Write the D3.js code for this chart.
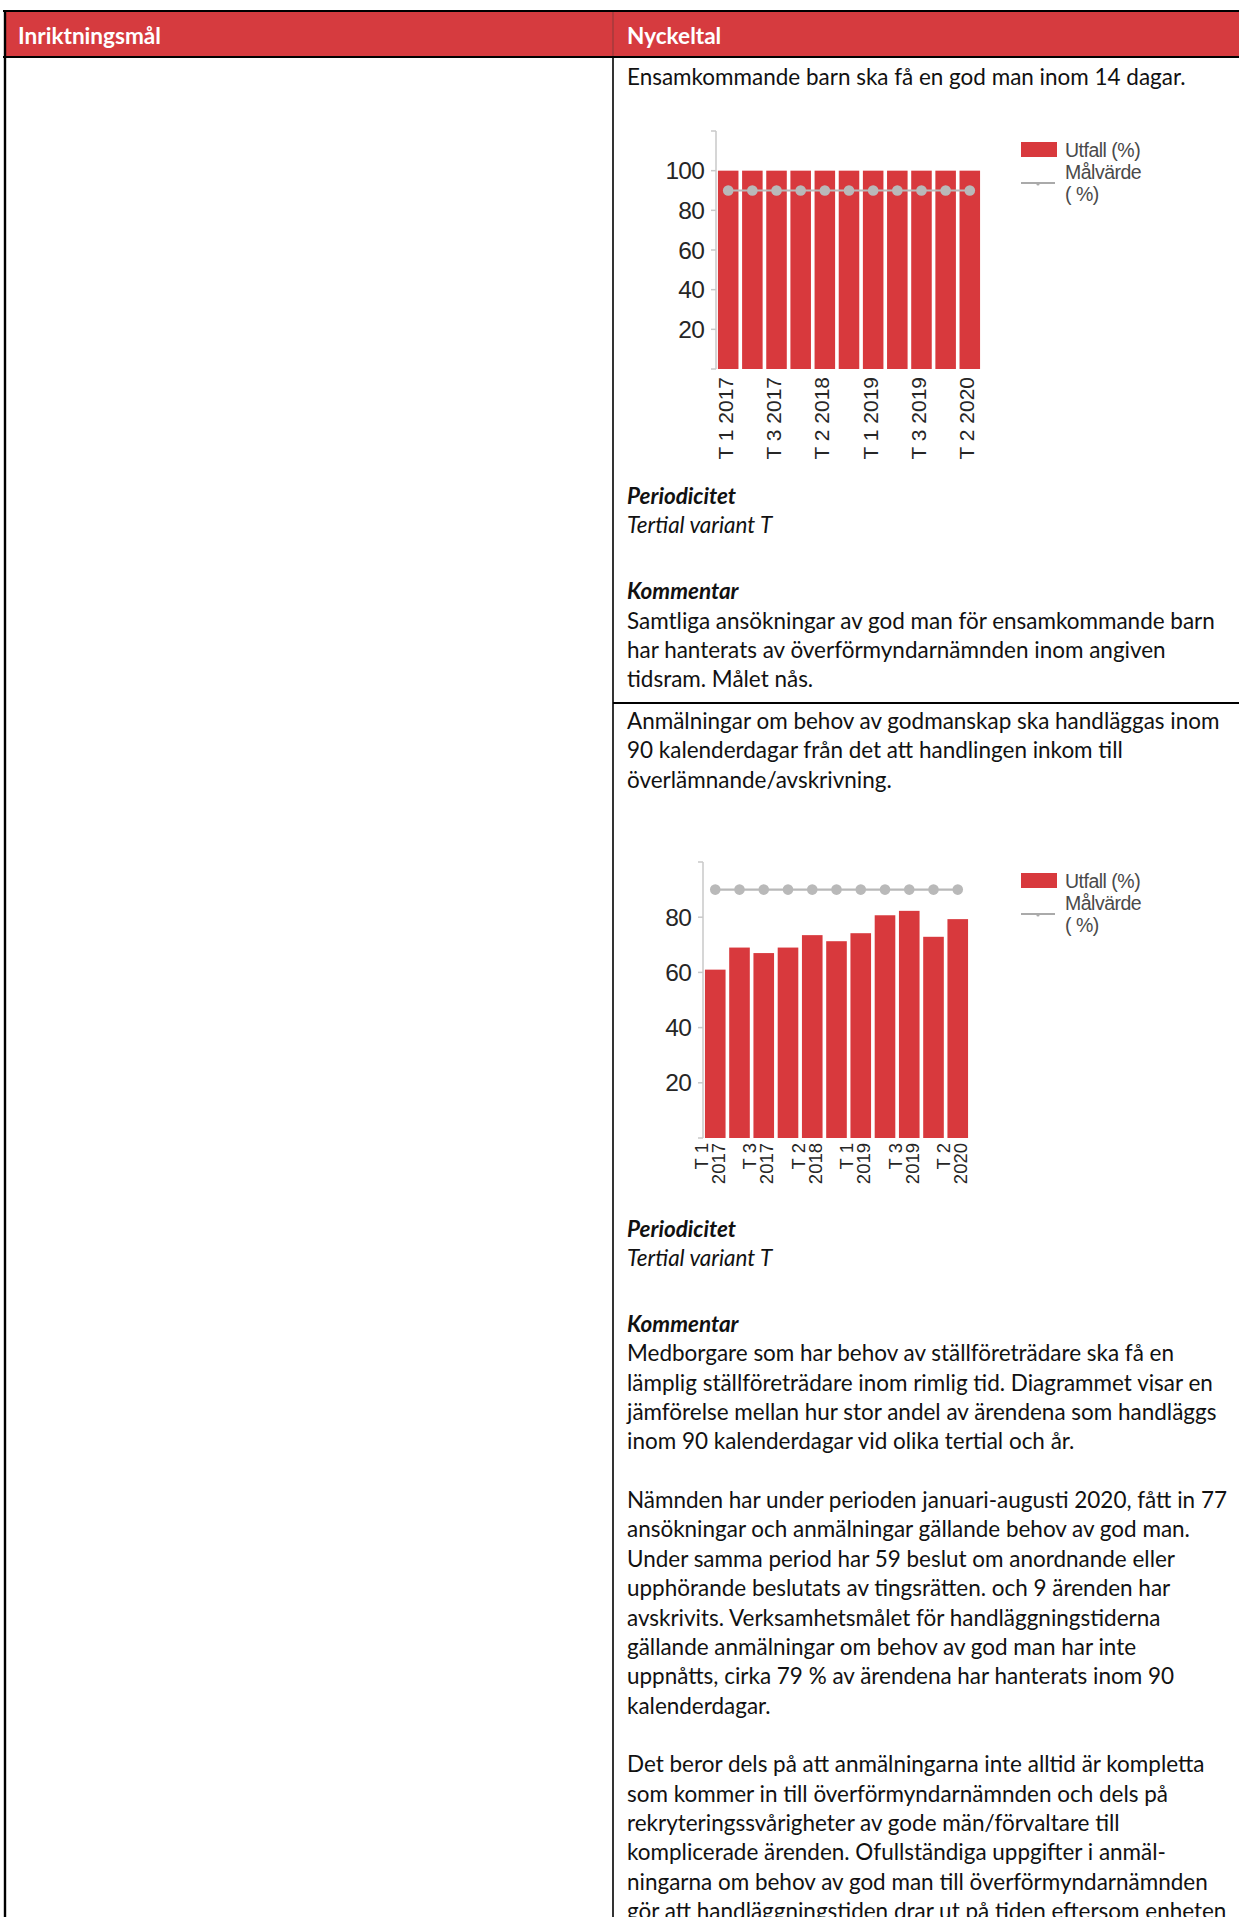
<!DOCTYPE html>
<html><head><meta charset="utf-8">
<script src="https://cdn.jsdelivr.net/npm/d3@7"></script>
<style>html,body{margin:0;padding:0;background:#fff;} svg{display:block}</style>
</head><body>
<svg id="page" width="1239" height="1917"></svg>
<script>
// ---------- DATA ----------
const categories = ["T 1 2017","T 2 2017","T 3 2017","T 1 2018","T 2 2018","T 3 2018","T 1 2019","T 2 2019","T 3 2019","T 1 2020","T 2 2020"];
const utfall1   = [100,100,100,100,100,100,100,100,100,100,100];
const malvarde1 = [90,90,90,90,90,90,90,90,90,90,90];
const utfall2   = [61,69,67,69,73.5,71.3,74.2,80.7,82.3,72.9,79.3];
const malvarde2 = [90,90,90,90,90,90,90,90,90,90,90];
const yTicks1 = [20,40,60,80,100];
const yTicks2 = [20,40,60,80];
const legendLabels = ["Utfall (%)","Målvärde","( %)"];
const headers = ["Inriktningsmål","Nyckeltal"];

const block1 = [
  {t:"Ensamkommande barn ska få en god man inom 14 dagar.", y:76},
];
const block1b = [
  {t:"Periodicitet", y:495.4, s:"bi"},
  {t:"Tertial variant T", y:524.7, s:"i"},
  {t:"Kommentar", y:590.8, s:"bi"},
  {t:"Samtliga ansökningar av god man för ensamkommande barn", y:620.1},
  {t:"har hanterats av överförmyndarnämnden inom angiven", y:649.5},
  {t:"tidsram. Målet nås.", y:678.8},
];
const block2 = [
  {t:"Anmälningar om behov av godmanskap ska handläggas inom", y:720.4},
  {t:"90 kalenderdagar från det att handlingen inkom till", y:749.8},
  {t:"överlämnande/avskrivning.", y:779.1},
  {t:"Periodicitet", y:1228, s:"bi"},
  {t:"Tertial variant T", y:1257.3, s:"i"},
  {t:"Kommentar", y:1323.4, s:"bi"},
  {t:"Medborgare som har behov av ställföreträdare ska få en", y:1352.7},
  {t:"lämplig ställföreträdare inom rimlig tid. Diagrammet visar en", y:1382.1},
  {t:"jämförelse mellan hur stor andel av ärendena som handläggs", y:1411.5},
  {t:"inom 90 kalenderdagar vid olika tertial och år.", y:1440.8},
  {t:"Nämnden har under perioden januari-augusti 2020, fått in 77", y:1499.5},
  {t:"ansökningar och anmälningar gällande behov av god man.", y:1528.9},
  {t:"Under samma period har 59 beslut om anordnande eller", y:1558.2},
  {t:"upphörande beslutats av tingsrätten. och 9 ärenden har", y:1587.6},
  {t:"avskrivits. Verksamhetsmålet för handläggningstiderna", y:1617},
  {t:"gällande anmälningar om behov av god man har inte", y:1646.3},
  {t:"uppnåtts, cirka 79 % av ärendena har hanterats inom 90", y:1675.6},
  {t:"kalenderdagar.", y:1705},
  {t:"Det beror dels på att anmälningarna inte alltid är kompletta", y:1763.7},
  {t:"som kommer in till överförmyndarnämnden och dels på", y:1793.1},
  {t:"rekryteringssvårigheter av gode män/förvaltare till", y:1822.4},
  {t:"komplicerade ärenden. Ofullständiga uppgifter i anmäl-", y:1851.8},
  {t:"ningarna om behov av god man till överförmyndarnämnden", y:1881.1},
  {t:"gör att handläggningstiden drar ut på tiden eftersom enheten", y:1910.5},
];

// ---------- STYLE ----------
const RED = "#d8393d";
const HEADRED = "#d63b3f";
const GREY = "#b9b9b9";
const AXIS = "#c9c9c9";
const bodyFont = "Lato, 'Open Sans', sans-serif";
const chartFont = "'Liberation Sans', Arial, sans-serif";

const svg = d3.select("#page");

// calibrate body font size to the reference line width
const probe = svg.append("text").attr("font-family", bodyFont).attr("font-size", 20).text(block1[0].t);
const pw = probe.node().getComputedTextLength();
probe.remove();
const bodySize = 20 * 559 / pw;
const probe2 = svg.append("text").attr("font-family", bodyFont).attr("font-weight", "bold").attr("font-size", 20).text(headers[0]);
const hw = probe2.node().getComputedTextLength();
probe2.remove();
const headSize = 20 * 143 / hw;

// ---------- TABLE ----------
const colX = 613;
svg.append("rect").attr("x", 4).attr("y", 11).attr("width", 1235).attr("height", 46).attr("fill", HEADRED);
svg.append("line").attr("x1", 3).attr("x2", 1239).attr("y1", 11).attr("y2", 11).attr("stroke", "#000").attr("stroke-width", 2);
svg.append("line").attr("x1", 3).attr("x2", 1239).attr("y1", 57).attr("y2", 57).attr("stroke", "#000").attr("stroke-width", 2);
svg.append("line").attr("x1", 5).attr("x2", 5).attr("y1", 10).attr("y2", 1917).attr("stroke", "#000").attr("stroke-width", 2.4);
svg.append("line").attr("x1", colX).attr("x2", colX).attr("y1", 12).attr("y2", 56).attr("stroke", "#8a3a3a").attr("stroke-width", 1);
svg.append("line").attr("x1", colX).attr("x2", colX).attr("y1", 57).attr("y2", 1917).attr("stroke", "#000").attr("stroke-width", 1.6);
svg.append("line").attr("x1", colX).attr("x2", 1239).attr("y1", 703).attr("y2", 703).attr("stroke", "#000").attr("stroke-width", 1.8);

svg.selectAll("text.head").data(headers).join("text")
  .attr("class", "head")
  .attr("x", (d, i) => i === 0 ? 18 : 627)
  .attr("y", 35)
  .attr("dominant-baseline", "central")
  .attr("font-family", bodyFont).attr("font-weight", "bold")
  .attr("font-size", headSize).attr("fill", "#fff")
  .text(d => d);

function drawLines(lines) {
  svg.append("g").selectAll("text").data(lines).join("text")
    .attr("x", 627).attr("y", d => d.y)
    .attr("dominant-baseline", "central")
    .attr("font-family", bodyFont)
    .attr("font-size", bodySize)
    .attr("font-weight", d => d.s === "bi" ? "bold" : "normal")
    .attr("font-style", d => d.s ? "italic" : "normal")
    .attr("fill", "#111")
    .text(d => d.t);
}
drawLines(block1); drawLines(block1b); drawLines(block2);

// ---------- CHARTS ----------
function drawChart(opt) {
  const g = svg.append("g");
  const x = d3.scaleBand().domain(categories).range([opt.x0, opt.x1]).paddingInner(0.15).paddingOuter(0.08);
  const y = d3.scaleLinear().domain([0, opt.ymax]).range([opt.yBottom, opt.yTop]);

  // axis line
  g.append("line").attr("x1", opt.x0).attr("x2", opt.x0).attr("y1", y(0)).attr("y2", y(opt.ymax))
    .attr("stroke", AXIS).attr("stroke-width", 1.5);
  const tickVals = d3.range(0, opt.ymax + 1, 20);
  g.selectAll("line.tk").data(tickVals).join("line").attr("class", "tk")
    .attr("x1", opt.x0 - 5).attr("x2", opt.x0).attr("y1", d => y(d)).attr("y2", d => y(d))
    .attr("stroke", AXIS).attr("stroke-width", 1.5);
  g.selectAll("text.yl").data(opt.labels).join("text").attr("class", "yl")
    .attr("x", opt.x0 - 12).attr("y", d => y(d))
    .attr("text-anchor", "end").attr("dominant-baseline", "central")
    .attr("font-family", chartFont).attr("font-size", 24.5).attr("fill", "#262626")
    .attr("letter-spacing", -0.8)
    .text(d => d);

  // bars
  g.selectAll("rect.bar").data(opt.values).join("rect").attr("class", "bar")
    .attr("x", (d, i) => x(categories[i])).attr("width", x.bandwidth())
    .attr("y", d => y(d)).attr("height", d => y(0) - y(d))
    .attr("fill", RED);

  // target line
  const line = d3.line().x((d, i) => x(categories[i]) + x.bandwidth() / 2).y(d => y(d));
  g.append("path").datum(opt.target).attr("d", line).attr("fill", "none").attr("stroke", GREY).attr("stroke-width", 2.2);
  g.selectAll("circle.t").data(opt.target).join("circle").attr("class", "t")
    .attr("cx", (d, i) => x(categories[i]) + x.bandwidth() / 2).attr("cy", d => y(d))
    .attr("r", 5.3).attr("fill", GREY);

  // x labels (every other)
  const shown = categories.filter((c, i) => i % 2 === 0);
  const xl = g.selectAll("text.xl").data(shown).join("text").attr("class", "xl")
    .attr("transform", d => `translate(${x(d) + x.bandwidth() / 2 + opt.labelDx},${y(0) + opt.labelGap}) rotate(-90)`)
    .attr("text-anchor", "end")
    .attr("font-family", chartFont).attr("font-size", opt.labelSize).attr("fill", "#262626");
  if (opt.twoLine) {
    xl.append("tspan").attr("x", 0).attr("y", -8).attr("dominant-baseline", "central").text(d => d.slice(0, 3));
    xl.append("tspan").attr("x", 0).attr("y", 9).attr("dominant-baseline", "central").text(d => d.slice(4));
  } else {
    xl.attr("dominant-baseline", "central").text(d => d);
  }

  // legend
  const lg = g.append("g").attr("transform", `translate(1021,${opt.legendY})`);
  lg.append("rect").attr("x", 0).attr("y", 0).attr("width", 36).attr("height", 15).attr("fill", RED);
  lg.selectAll("text").data(legendLabels).join("text")
    .attr("x", 44).attr("y", (d, i) => 8 + i * 22)
    .attr("dominant-baseline", "central")
    .attr("font-family", chartFont).attr("font-size", 19.5).attr("fill", "#4a4a4a")
    .attr("letter-spacing", -0.5)
    .text(d => d);
  lg.append("line").attr("x1", 0).attr("x2", 34).attr("y1", 41).attr("y2", 41).attr("stroke", "#aaa").attr("stroke-width", 2);
  lg.append("circle").attr("cx", 17).attr("cy", 42).attr("r", 1.6).attr("fill", "#aaa");
}

drawChart({x0: 716, x1: 982, yBottom: 369, yTop: 131, ymax: 120, values: utfall1, target: malvarde1,
  labels: yTicks1, labelDx: -3, labelGap: 8, labelSize: 21, twoLine: false, legendY: 142});
drawChart({x0: 703, x1: 970, yBottom: 1138, yTop: 862, ymax: 100, values: utfall2, target: malvarde2,
  labels: yTicks2, labelDx: -6, labelGap: 5, labelSize: 18.5, twoLine: true, legendY: 873});
</script>
</body></html>
